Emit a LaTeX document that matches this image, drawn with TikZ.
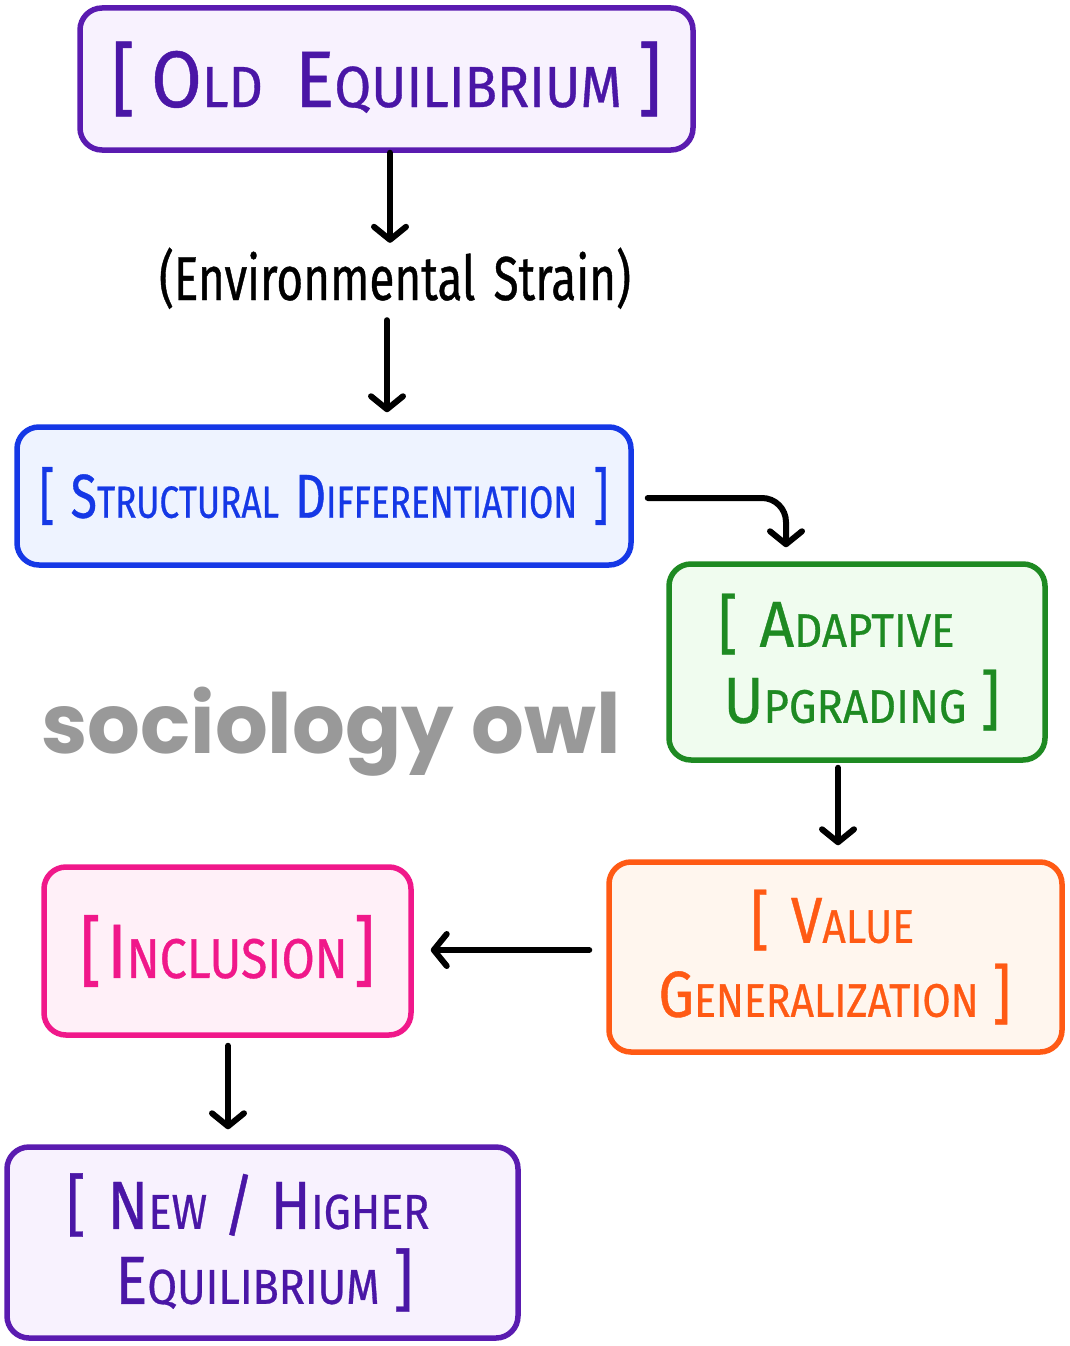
\documentclass[tikz,border=0pt]{standalone}
\usepackage{fontspec}
\setmainfont{Fira Sans}[FakeStretch=0.8]
\newfontfamily\wmfont{Poppins}
\newcommand\mkfam[2]{\newfontfamily#1{Fira Sans}[FakeStretch=#2,FakeBold=0.6]}
\mkfam\fOld{0.92}
\mkfam\fStr{0.78}
\mkfam\fAda{0.93}
\mkfam\fVal{0.87}
\mkfam\fInc{0.86}
\mkfam\fNew{0.88}
\mkfam\fEnv{0.74}
\usetikzlibrary{arrows.meta,calc}
\definecolor{purp}{HTML}{5A1BB0}
\definecolor{purptext}{HTML}{4A16A6}
\definecolor{purpfill}{HTML}{F8F2FE}
\definecolor{blu}{HTML}{1538E6}
\definecolor{blufill}{HTML}{EEF3FF}
\definecolor{grn}{HTML}{1E8A22}
\definecolor{grnfill}{HTML}{F0FCEF}
\definecolor{orng}{HTML}{FF5A14}
\definecolor{orngfill}{HTML}{FFF6EE}
\definecolor{pnk}{HTML}{F0188A}
\definecolor{pnkfill}{HTML}{FFF0F8}
\definecolor{wm}{HTML}{999999}
\newcommand\setsz[3]{\def\bigsz{#1pt}\def\smsz{#2pt}\fontsize{#1pt}{#3pt}\selectfont}
\newcommand\SC[2]{{\fontsize{\bigsz}{\bigsz}\selectfont #1}{\fontsize{\smsz}{\smsz}\selectfont #2}}
\newcommand\LB{\llap{[\hspace{22pt}}}
\newcommand\RB{\rlap{\hspace{14pt}]}}
\newcommand\pad[1]{\hspace*{#1}\mbox{}}
\tikzset{
  box/.style={draw=#1, rounded corners=22pt, line width=5.5pt, inner sep=0pt, align=center},
  arr/.style={-{Straight Barb[length=13pt,width=32pt,round]}, line width=6pt, line cap=round, line join=round, black}
}
\begin{document}
\begin{tikzpicture}[x=1pt,y=-1pt]
\fill[white] (0,0) rectangle (1069,1346);
\useasboundingbox (0,0) rectangle (1069,1346);

\node[font={\wmfont\bfseries\fontsize{83pt}{83pt}\selectfont}, text=wm, inner sep=0] (wm) at (331,732) {sociology owl};

\node[box=purp, fill=purpfill, minimum width=613pt, minimum height=142pt, text=purptext,
      font={\fOld\setsz{80}{58}{80}}] (old) at (386.5,79)
  {[\hspace{16pt}\SC{O}{LD}\hspace{32pt}\SC{E}{QUILIBRIUM}\hspace{16pt}]};

\node[anchor=base, font={\fEnv\fontsize{62pt}{62pt}\selectfont}, text height=50pt, text depth=12pt, inner sep=0] (env) at (395,300) {(Environmental\hspace{6pt} Strain)};

\node[box=blu, fill=blufill, minimum width=614pt, minimum height=138pt, text=blu,
      font={\fStr\setsz{62}{45}{62}}] (struct) at (324,496)
  {[\hspace{16pt}\SC{S}{TRUCTURAL}\hspace{16pt}\SC{D}{IFFERENTIATION}\hspace{16pt}]};

\node[box=grn, fill=grnfill, minimum width=376pt, minimum height=196pt, text=grn,
      font={\fAda\setsz{65}{47}{76}}] (adapt) at (857,662)
  {\LB\SC{A}{DAPTIVE}\\\SC{U}{PGRADING}\RB\pad{24pt}};

\node[box=orng, fill=orngfill, minimum width=453pt, minimum height=190pt, text=orng,
      font={\fVal\setsz{65}{47}{74}}] (value) at (835.5,957)
  {\hspace{34pt}\LB\SC{V}{ALUE}\\\SC{G}{ENERALIZATION}\RB\pad{34pt}};

\node[box=pnk, fill=pnkfill, minimum width=367pt, minimum height=168pt, text=pnk,
      font={\fInc\setsz{77}{56}{77}}] (incl) at (227.5,951)
  {[\hspace{6pt}\SC{I}{NCLUSION}\hspace{6pt}]};

\node[box=purp, fill=purpfill, minimum width=511pt, minimum height=191pt, text=purptext,
      font={\fNew\setsz{68}{49}{75}}] (new) at (262.5,1242.5)
  {\hspace{12pt}\LB\SC{N}{EW}\hspace{16pt}/\hspace{16pt}\SC{H}{IGHER}\\\SC{E}{QUILIBRIUM}\RB\pad{30pt}};

\draw[arr] ($(old.south)+(3.5,0)$) -- ($(old.south |- env.north)+(3.5,-7)$);
\draw[arr] ($(env.south)+(-8,8)$) -- ($(env.south |- struct.north)+(-8,-12)$);
\draw[arr, rounded corners=24pt] ($(struct.east)+(14,2)$) -| ($(adapt.north)+(-71,-14)$);
\draw[arr] ($(adapt.south)+(-19,5)$) -- ($(adapt.south |- value.north)+(-19,-14)$);
\draw[arr] ($(value.west)+(-17,-7)$) -- ($(value.west -| incl.east)+(17,-7)$);
\draw[arr] ($(incl.south)+(0.5,8)$) -- ($(incl.south |- new.north)+(0.5,-15)$);
\end{tikzpicture}
\end{document}
